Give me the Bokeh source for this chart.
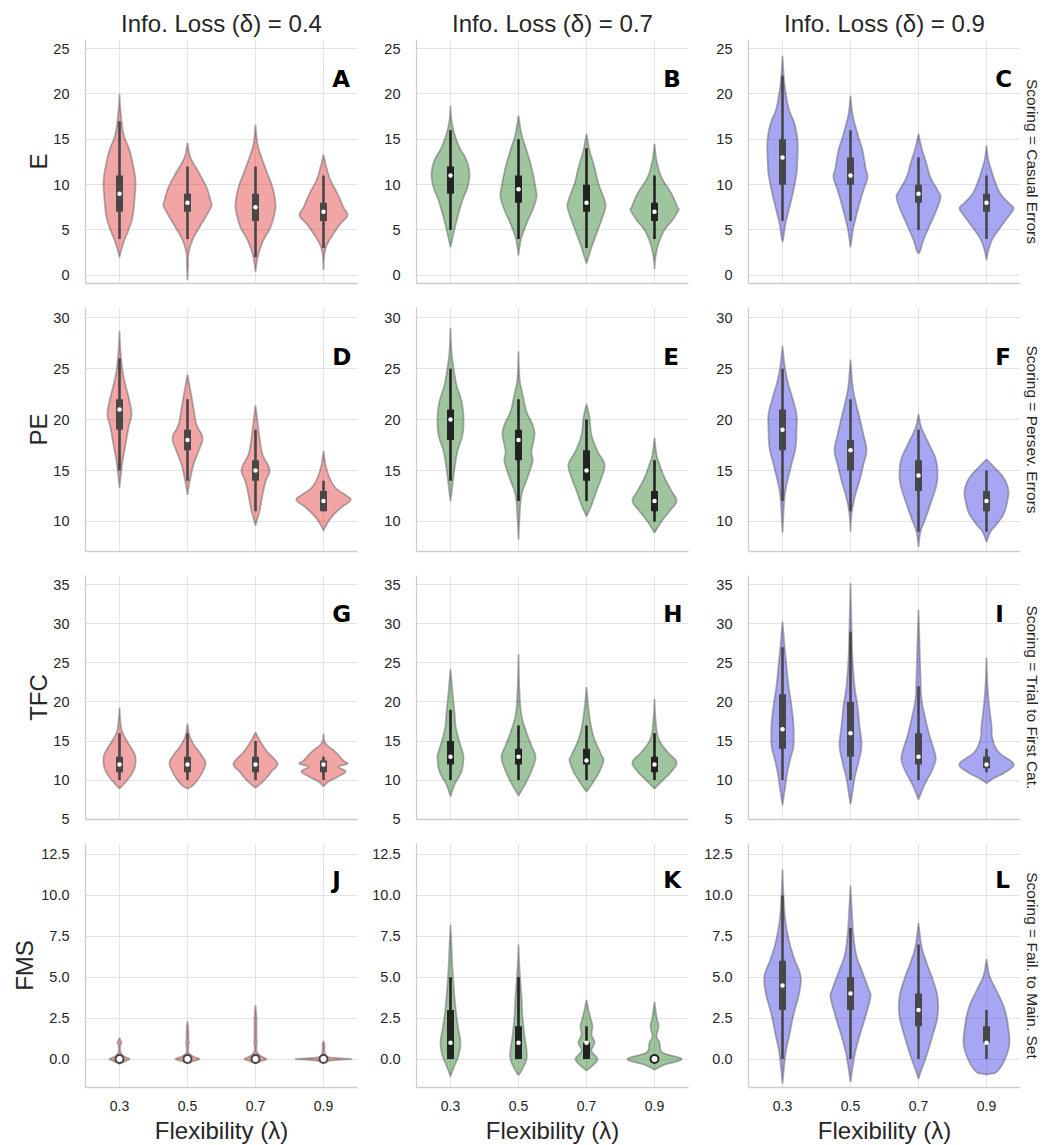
import numpy as np
from bokeh.plotting import figure
from bokeh.layouts import column, row
from bokeh.models import (FixedTicker, Title, Label, Range1d, NumeralTickFormatter)
from bokeh.embed import file_html
from bokeh.resources import INLINE

flexibility = ["0.3", "0.5", "0.7", "0.9"]
info_loss = ["0.4", "0.7", "0.9"]
scoring_labels = ["Casual Errors", "Persev. Errors", "Trial to First Cat.", "Fail. to Main. Set"]
measure_labels = ["E", "PE", "TFC", "FMS"]
panel_letters = [["A", "B", "C"], ["D", "E", "F"], ["G", "H", "I"], ["J", "K", "L"]]

# inner box per violin: (whisker_low, q1, median, q3, whisker_high)
A_box = [(4, 7, 9, 11, 17), (4, 7, 8, 9, 12), (2, 6, 7.5, 9, 12), (3, 6, 7, 8, 11)]
B_box = [(5, 9, 11, 12, 16), (4, 8, 9.5, 11, 15), (3, 7, 8, 10, 14), (4, 6, 7, 8, 11)]
C_box = [(6, 10, 13, 15, 22), (6, 10, 11, 13, 16), (5, 8, 9, 10, 13), (4, 7, 8, 9, 11)]
D_box = [(15, 19, 21, 22, 26), (14, 17, 18, 19, 22), (11, 14, 15, 16, 19), (11, 11, 12, 13, 14)]
E_box = [(14, 18, 20, 21, 25), (12, 16, 18, 19, 22), (12, 14, 15, 17, 20), (10, 11, 12, 13, 16)]
F_box = [(12, 17, 19, 21, 25), (11, 15, 17, 18, 22), (9, 13, 14.5, 16, 19), (9, 11, 12, 13, 15)]
G_box = [(10, 11, 12, 13, 16), (10, 11, 12, 13, 16), (10, 11, 12, 13, 15), (10, 11, 12, 12.5, 13)]
H_box = [(10, 12, 13, 15, 19), (10, 12, 13, 14, 17), (10, 12, 12.5, 14, 17), (10, 11, 12, 13, 16)]
I_box = [(10, 14, 16.5, 21, 27), (10, 13, 16, 20, 29), (10, 12, 13, 16, 22), (11, 11.5, 12, 13, 14)]
J_box = [(0, 0, 0, 0, 0), (0, 0, 0, 0, 0), (0, 0, 0, 0, 0), (0, 0, 0, 0, 0)]
K_box = [(0, 0, 1, 3, 5), (0, 0, 1, 2, 5), (0, 0, 1, 1, 2), (0, 0, 0, 0, 0)]
L_box = [(0, 3, 4.5, 6, 10), (0, 3, 4, 5, 8), (0, 2, 3, 4, 7), (0, 1, 1, 2, 3)]

# violin outlines: (value, density) from top tip to bottom tip
A_shape = [
    [(20.0, 0), (18.2, 1), (15.6, 4), (13.8, 10), (11.9, 14), (10.3, 16), (8.3, 15), (6.4, 13), (5.0, 9), (3.9, 5), (2.9, 2), (2.0, 0)],
    [(14.6, 0), (13.0, 3), (11.2, 12), (9.7, 19), (8.3, 23), (7.7, 24), (6.8, 20), (5.3, 12), (3.9, 5), (2.4, 1), (1.0, 0.6), (-0.5, 0)],
    [(16.6, 0), (14.5, 2), (12.7, 7), (11.2, 12), (9.7, 17), (7.9, 20), (6.8, 19), (5.3, 15), (3.9, 8), (2.4, 3), (1.3, 1), (0.4, 0)],
    [(13.3, 0), (11.9, 3), (10.5, 7), (9.0, 14), (7.5, 20), (6.6, 24), (5.7, 17), (4.6, 10), (3.5, 4), (2.4, 1), (0.6, 0)],
]
B_shape = [
    [(18.7, 0), (17.1, 1), (15.6, 4), (14.1, 9), (12.7, 16), (11.2, 19), (9.7, 17), (8.3, 12), (6.4, 7), (4.6, 3), (3.1, 0)],
    [(17.6, 0), (15.6, 3), (13.8, 8), (11.9, 13), (9.7, 17), (8.6, 18), (7.2, 14), (5.7, 8), (4.2, 3), (3.1, 1), (2.2, 0)],
    [(15.6, 0), (13.8, 3), (11.9, 8), (10.1, 12), (8.3, 18), (7.5, 19), (6.1, 15), (4.6, 10), (3.1, 5), (2.0, 2), (1.3, 0)],
    [(14.5, 0), (12.7, 2), (10.8, 7), (9.0, 17), (7.5, 23), (7.2, 24), (6.1, 18), (5.0, 10), (3.5, 4), (2.0, 1), (0.7, 0)],
]
C_shape = [
    [(24.2, 0), (21.1, 2), (18.5, 6), (16.7, 12), (14.9, 15), (13.0, 15), (11.2, 14), (9.4, 11), (7.5, 7), (5.7, 3), (4.2, 1), (3.7, 0)],
    [(19.8, 0), (17.8, 2), (15.6, 7), (13.8, 12), (11.9, 15), (10.8, 17), (9.4, 13), (7.5, 8), (5.3, 3), (3.9, 1), (3.1, 0)],
    [(15.6, 0), (14.1, 3), (12.3, 8), (10.8, 12), (9.4, 19), (8.6, 22), (7.2, 18), (5.7, 12), (3.9, 5), (2.8, 2), (2.4, 0)],
    [(14.3, 0), (12.7, 2), (10.5, 8), (9.0, 14), (8.0, 22), (7.4, 27), (6.5, 22), (5.3, 14), (4.0, 6), (2.8, 2), (1.7, 0)],
]
D_shape = [
    [(28.7, 0), (26.7, 1), (24.8, 3), (23.4, 6), (21.8, 10), (20.5, 12), (19.2, 9), (17.5, 6), (15.9, 3), (14.3, 1), (13.3, 0)],
    [(24.4, 0), (22.8, 3), (21.1, 6), (19.5, 9), (18.2, 15), (16.9, 11), (15.6, 6), (14.3, 3), (13.3, 1), (12.6, 0)],
    [(21.4, 0), (19.8, 2), (18.2, 4), (16.6, 7), (15.1, 14), (13.9, 10), (12.6, 7), (11.0, 4), (10.0, 1), (9.6, 0)],
    [(16.9, 0), (15.6, 2), (14.3, 6), (13.3, 12), (12.6, 22), (12.1, 27), (11.3, 17), (10.3, 7), (9.3, 1), (9.1, 0)],
]
E_shape = [
    [(29.0, 0), (26.7, 1), (25.1, 3), (23.4, 6), (21.8, 11), (20.2, 13), (18.5, 12), (16.9, 7), (15.2, 4), (13.6, 2), (12.0, 0)],
    [(26.7, 0), (24.1, 1), (22.5, 4), (20.8, 8), (19.5, 14), (18.5, 16), (16.9, 13), (15.9, 14), (14.3, 9), (12.6, 3), (10.3, 1), (8.2, 0)],
    [(21.5, 0), (20.2, 3), (18.5, 5), (16.9, 11), (15.6, 18), (14.3, 15), (13.0, 10), (11.6, 5), (10.5, 0)],
    [(18.2, 0), (16.6, 2), (15.6, 5), (14.3, 10), (13.0, 17), (12.0, 22), (11.0, 15), (10.0, 7), (8.9, 0)],
]
F_shape = [
    [(27.2, 0), (25.4, 2), (23.8, 5), (22.1, 10), (20.5, 14), (18.9, 14), (17.2, 13), (15.6, 9), (14.0, 5), (12.3, 2), (8.9, 0)],
    [(25.9, 0), (23.4, 2), (21.8, 5), (20.2, 9), (18.5, 13), (17.0, 16), (15.6, 13), (14.0, 9), (12.3, 4), (10.7, 1), (9.0, 0)],
    [(20.5, 0), (19.2, 3), (17.5, 11), (16.2, 17), (14.9, 19), (13.6, 18), (12.0, 13), (10.3, 7), (9.0, 2), (7.5, 0)],
    [(16.1, 0), (15.4, 7), (14.3, 17), (13.0, 22), (11.6, 20), (10.7, 17), (9.7, 10), (9.0, 4), (8.0, 0)],
]
G_shape = [
    [(19.3, 0), (17.4, 1), (16.1, 3), (14.9, 8), (13.6, 14), (12.8, 16), (11.5, 15), (10.2, 9), (8.9, 0)],
    [(17.2, 0), (15.7, 2), (14.4, 7), (13.2, 14), (12.1, 18), (10.6, 13), (9.4, 6), (8.9, 0)],
    [(16.1, 0), (14.9, 5), (13.6, 12), (12.1, 22), (11.1, 16), (10.0, 9), (9.0, 0)],
    [(15.9, 0), (14.7, 2), (13.6, 12), (12.5, 20), (12.1, 24), (11.7, 15), (11.1, 22), (10.4, 14), (9.8, 5), (9.2, 0)],
]
H_shape = [
    [(24.2, 0), (21.2, 2), (18.7, 4), (17.0, 5), (15.3, 8), (13.6, 12), (12.8, 13), (11.1, 11), (9.4, 4), (7.9, 0)],
    [(26.1, 0), (21.2, 1), (18.3, 3), (16.1, 8), (14.4, 13), (13.0, 17), (11.5, 14), (9.8, 8), (8.0, 0)],
    [(21.9, 0), (19.1, 2), (16.6, 5), (14.9, 9), (13.2, 15), (12.5, 17), (11.1, 13), (9.8, 7), (8.5, 0)],
    [(20.4, 0), (17.8, 1), (15.3, 4), (13.6, 13), (12.3, 22), (11.1, 17), (9.8, 7), (8.9, 0)],
]
I_shape = [
    [(30.3, 0), (27.2, 2), (24.6, 4), (22.1, 6), (19.5, 9), (17.0, 11), (14.4, 11), (12.8, 8), (11.1, 5), (9.4, 3), (6.8, 0)],
    [(35.2, 0), (29.7, 1), (25.5, 2), (22.1, 4), (19.5, 7), (17.0, 9), (14.4, 11), (12.3, 8), (10.2, 4), (8.5, 2), (6.9, 0)],
    [(31.8, 0), (27.6, 1), (23.4, 2), (20.4, 3), (17.8, 7), (15.7, 11), (13.6, 16), (12.5, 17), (11.1, 13), (9.4, 6), (7.5, 0)],
    [(25.7, 0), (22.1, 1), (19.1, 3), (17.0, 5), (15.3, 6), (13.6, 12), (12.1, 27), (11.1, 20), (10.2, 7), (9.6, 0)],
]
J_shape = [
    [(1.3, 0), (1.15, 1), (1.0, 2), (0.85, 1), (0.6, 0.6), (0.3, 2), (0.12, 6), (0.0, 10), (-0.12, 6), (-0.3, 0)],
    [(2.3, 0), (1.8, 0.8), (1.2, 1), (1.0, 1.5), (0.8, 1), (0.4, 1), (0.15, 6), (0.0, 12), (-0.12, 6), (-0.25, 0)],
    [(3.3, 0), (2.5, 1), (1.5, 1), (1.0, 1.2), (0.5, 1), (0.2, 5), (0.0, 11), (-0.12, 6), (-0.25, 0)],
    [(1.1, 0), (0.9, 1), (0.5, 1), (0.15, 3), (0.05, 15), (0.0, 28), (-0.05, 15), (-0.15, 0)],
]
K_shape = [
    [(8.2, 0), (6.9, 1), (5.5, 2), (3.8, 4), (2.6, 6), (1.8, 8), (1.0, 10), (0.2, 8), (-0.4, 4), (-1.06, 0)],
    [(7.0, 0), (5.5, 1), (3.8, 3), (2.6, 4), (1.4, 6), (0.6, 8), (0.0, 8), (-0.6, 4), (-1.0, 0)],
    [(3.6, 0), (3.0, 2), (2.5, 4), (2.0, 6), (1.5, 5), (1.0, 8), (0.5, 5), (0.0, 11), (-0.4, 6), (-0.7, 0)],
    [(3.5, 0), (2.6, 2), (2.0, 4), (1.4, 2), (1.0, 5), (0.4, 8), (0.0, 27), (-0.35, 10), (-0.65, 0)],
]
L_shape = [
    [(11.6, 0), (10.0, 1), (8.4, 3), (7.1, 7), (6.1, 12), (5.1, 18), (4.1, 17), (2.7, 11), (1.5, 7), (0.3, 3), (-1.5, 0)],
    [(10.6, 0), (8.9, 1.5), (7.5, 3), (6.3, 6), (5.3, 12), (4.3, 18), (3.8, 20), (2.6, 15), (1.4, 9), (0.2, 4), (-1.4, 0)],
    [(8.3, 0), (6.9, 3), (5.9, 8), (4.9, 14), (3.8, 19), (2.6, 19), (1.4, 14), (0.2, 8), (-0.65, 3), (-1.2, 0)],
    [(6.1, 0), (5.1, 3), (4.3, 9), (3.4, 16), (2.6, 20), (1.8, 22), (1.2, 23), (0.6, 22), (-0.2, 17), (-0.8, 10), (-0.9, 4), (-0.95, 0)],
]

boxes = [[A_box, B_box, C_box], [D_box, E_box, F_box], [G_box, H_box, I_box], [J_box, K_box, L_box]]
shapes = [[A_shape, B_shape, C_shape], [D_shape, E_shape, F_shape], [G_shape, H_shape, I_shape], [J_shape, K_shape, L_shape]]

# styling
FONT = "Liberation Sans"
TEXT = "#262626"
violin_colors = ["#df1f1f", "#0e6e0e", "#2020df"]
box_colors = ["#474747", "#222222", "#474747"]
yranges = [(-0.9, 26.0), (7.05, 31.0), (4.95, 36.2), (-1.74, 13.17)]
yticks = [[0, 5, 10, 15, 20, 25], [10, 15, 20, 25, 30], [5, 10, 15, 20, 25, 30, 35], [0, 2.5, 5, 7.5, 10, 12.5]]
letter_offsets = [39, 49, 38, 36]
ylabel_standoffs = [-2, -2, -2, 0]
FRAME_W, FRAME_H = 272, 244
DENS_SCALE = 1.0 / 68.0   # density units -> category units
BOX_W = 7.0 / 68.0

borders_lr = [(85, 4), (55, 5), (55, 30)]
borders_tb = [(39, 12), (12, 12), (12, 12), (12, 55)]


def smooth(pts, n=14):
    P = np.array(pts, dtype=float)
    P = np.vstack([P[0], P, P[-1]])
    out = []
    t = np.linspace(0, 1, n, endpoint=False)[:, None]
    for i in range(1, len(P) - 2):
        p0, p1, p2, p3 = P[i - 1], P[i], P[i + 1], P[i + 2]
        seg = 0.5 * ((2 * p1) + (-p0 + p2) * t + (2 * p0 - 5 * p1 + 4 * p2 - p3) * t ** 2
                     + (-p0 + 3 * p1 - 3 * p2 + p3) * t ** 3)
        out.append(seg)
    out.append(P[-2][None, :])
    res = np.vstack(out)
    res[:, 1] = np.clip(res[:, 1], 0, None)
    return res


rows = []
for r in range(4):
    figs = []
    for c in range(3):
        bl, br = borders_lr[c]
        bt, bb = borders_tb[r]
        y0, y1 = yranges[r]
        p = figure(frame_width=FRAME_W, frame_height=FRAME_H,
                   x_range=Range1d(-0.5, 3.5), y_range=Range1d(y0, y1),
                   output_backend="svg", toolbar_location=None,
                   min_border_left=bl, min_border_right=br,
                   min_border_top=bt, min_border_bottom=bb)
        p.outline_line_color = None
        p.background_fill_color = "white"
        p.border_fill_color = "white"

        # axes
        cat_ticks = list(range(len(flexibility)))
        p.xgrid.ticker = FixedTicker(ticks=cat_ticks)
        p.ygrid.ticker = FixedTicker(ticks=yticks[r])
        p.yaxis.ticker = FixedTicker(ticks=yticks[r])
        if r == 3:
            p.xaxis.ticker = FixedTicker(ticks=cat_ticks)
        else:
            p.xaxis.ticker = FixedTicker(ticks=[])
        for ax in (p.xaxis[0], p.yaxis[0]):
            ax.axis_line_color = "#cccccc"
            ax.axis_line_width = 1.3
            ax.major_tick_line_color = None
            ax.minor_tick_line_color = None
            ax.major_label_text_font = FONT
            ax.major_label_text_color = TEXT
            ax.axis_label_text_font = FONT
            ax.axis_label_text_font_style = "normal"
            ax.axis_label_text_color = TEXT
            ax.axis_label_text_font_size = "24px"
        p.xaxis.major_label_text_font_size = "14px"
        p.yaxis.major_label_text_font_size = "14.5px"
        p.yaxis.major_label_standoff = 10
        if r == 3:
            p.yaxis.formatter = NumeralTickFormatter(format="0.0")
        else:
            p.yaxis.formatter = NumeralTickFormatter(format="0")
        if c == 0:
            p.yaxis.axis_label = measure_labels[r]
            p.yaxis.axis_label_standoff = ylabel_standoffs[r]
        if r == 3:
            p.xaxis.major_label_overrides = {i: f for i, f in enumerate(flexibility)}
            p.xaxis.major_label_standoff = 7
            p.xaxis.axis_label = "Flexibility (λ)"
            p.xaxis.axis_label_standoff = 3
        else:
            p.xaxis.major_label_standoff = 0

        p.xgrid.grid_line_color = "#e3e3e3"
        p.ygrid.grid_line_color = "#e3e3e3"
        p.xgrid.grid_line_width = 1
        p.ygrid.grid_line_width = 1

        # violins
        xs, ys = [], []
        for i, pts in enumerate(shapes[r][c]):
            sm = smooth(pts)
            yv, w = sm[:, 0], sm[:, 1] * DENS_SCALE
            xs.append(np.concatenate([i + w, (i - w)[::-1]]))
            ys.append(np.concatenate([yv, yv[::-1]]))
        p.patches(xs=xs, ys=ys, fill_color=violin_colors[c], fill_alpha=0.4,
                  line_color="#555555", line_alpha=0.45, line_width=1.8)

        # inner boxes
        bx = boxes[r][c]
        idx = list(range(len(bx)))
        lo = [b[0] for b in bx]
        q1 = [b[1] for b in bx]
        med = [b[2] for b in bx]
        q3 = [b[3] for b in bx]
        hi = [b[4] for b in bx]
        col = box_colors[c]
        p.segment(x0=idx, y0=lo, x1=idx, y1=hi, line_color=col, line_width=2.6)
        p.vbar(x=idx, width=BOX_W, bottom=q1, top=q3, fill_color=col, line_color=None)
        flat = [i for i in idx if q1[i] == q3[i]]
        nonflat = [i for i in idx if q1[i] != q3[i]]
        if flat:
            p.scatter(x=flat, y=[med[i] for i in flat], size=8, marker="circle",
                      fill_color="white", line_color=col, line_width=2)
        if nonflat:
            p.scatter(x=nonflat, y=[med[i] for i in nonflat], size=4.5, marker="circle",
                      fill_color="white", line_color=None)

        # panel letter
        px_per_unit = FRAME_H / (y1 - y0)
        p.add_layout(Label(x=3.13, y=y1 - letter_offsets[r] / px_per_unit,
                           text=panel_letters[r][c], text_align="left",
                           text_baseline="alphabetic", text_font="DejaVu Sans",
                           text_font_style="bold", text_font_size="23px",
                           text_color="black"))

        if r == 0:
            p.title.text = f"Info. Loss (δ) = {info_loss[c]}"
            p.title.align = "center"
            p.title.text_font = FONT
            p.title.text_font_style = "normal"
            p.title.text_font_size = "24px"
            p.title.text_color = TEXT
            p.title.standoff = 5
        if c == 2:
            p.add_layout(Title(text=f"Scoring = {scoring_labels[r]}", align="center",
                               text_font=FONT, text_font_style="normal",
                               text_font_size="15.5px", text_color=TEXT, standoff=6),
                         "right")
        figs.append(p)
    rows.append(row(*figs))

layout = column(*rows)
open("out.html", "w").write(file_html(layout, INLINE))
